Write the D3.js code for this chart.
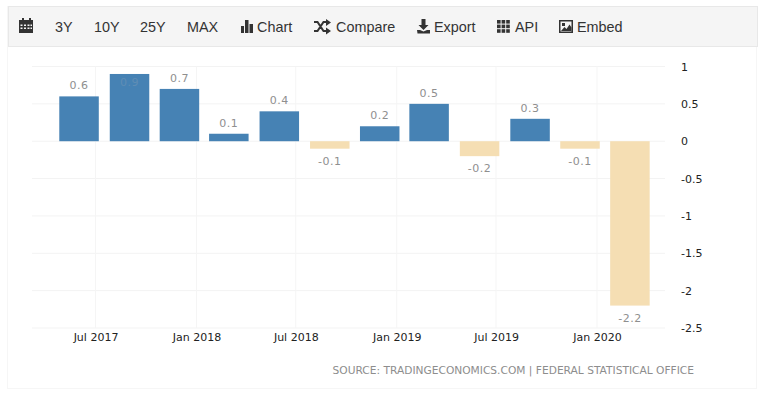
<!DOCTYPE html>
<html>
<head>
<meta charset="utf-8">
<script src="https://cdn.jsdelivr.net/npm/d3@7"></script>
<style>
  html, body { margin: 0; padding: 0; background: #fff; }
  svg { display: block; }
</style>
</head>
<body>
<div id="chart"></div>
<script>
// Quarterly values
var dates = ["2017-06-01", "2017-09-01", "2017-12-01", "2018-03-01", "2018-06-01", "2018-09-01",
  "2018-12-01", "2019-03-01", "2019-06-01", "2019-09-01", "2019-12-01", "2020-03-01"];
var values = [0.6, 0.9, 0.7, 0.1, 0.4, -0.1, 0.2, 0.5, -0.2, 0.3, -0.1, -2.2];
var yTicks = [1, 0.5, 0, -0.5, -1, -1.5, -2, -2.5];
var xTicks = ["2017-07-01", "2018-01-01", "2018-07-01", "2019-01-01", "2019-07-01", "2020-01-01"];
var rangeButtons = ["3Y", "10Y", "25Y", "MAX"];
var sourceText = "SOURCE: TRADINGECONOMICS.COM | FEDERAL STATISTICAL OFFICE";

var svgWidth = 760;
var svgHeight = 393;
var plot = { left: 32, right: 665, top: 66.5, bottom: 328 };
var barWidth = 39.5;

var parseDate = d3.timeParse("%Y-%m-%d");
var formatTick = d3.timeFormat("%b %Y");

var svg = d3.select("#chart")
  .append("svg")
  .attr("width", svgWidth)
  .attr("height", svgHeight);

// Outer panel and toolbar
svg.append("rect")
  .attr("x", 7.5).attr("y", 6.5)
  .attr("width", 749).attr("height", 382)
  .attr("fill", "#fff")
  .attr("stroke", "#f6f6f6");

svg.append("rect")
  .attr("x", 8.5).attr("y", 6.5)
  .attr("width", 749).attr("height", 40)
  .attr("fill", "#f5f5f5")
  .attr("stroke", "#e8e8e8");

// Scales, pinned on the two outer tick labels
var xScale = d3.scaleTime()
  .domain([parseDate(xTicks[0]), parseDate(xTicks[xTicks.length - 1])])
  .range([95.5, 597]);

var yScale = d3.scaleLinear()
  .domain([1, -2.5])
  .range([plot.top, plot.bottom]);

// Grid
var grid = svg.append("g");

grid.selectAll(".hgrid")
  .data(yTicks)
  .enter()
  .append("line")
  .attr("x1", plot.left)
  .attr("x2", plot.right)
  .attr("y1", d => yScale(d))
  .attr("y2", d => yScale(d))
  .attr("stroke", "#f3f3f3");

grid.selectAll(".vgrid")
  .data(xTicks)
  .enter()
  .append("line")
  .attr("x1", d => xScale(parseDate(d)))
  .attr("x2", d => xScale(parseDate(d)))
  .attr("y1", plot.top)
  .attr("y2", plot.bottom)
  .attr("stroke", "#f5f5f5");

// Axes
var xAxis = d3.axisBottom(xScale)
  .tickValues(xTicks.map(parseDate))
  .tickFormat(formatTick)
  .tickSize(0)
  .tickPadding(5);

var yAxis = d3.axisRight(yScale)
  .tickValues(yTicks)
  .tickFormat(d => d)
  .tickSize(0)
  .tickPadding(0);

var xAxisGroup = svg.append("g")
  .attr("transform", `translate(0, ${plot.bottom})`)
  .call(xAxis);

var yAxisGroup = svg.append("g")
  .attr("transform", `translate(681, 0)`)
  .call(yAxis);

[xAxisGroup, yAxisGroup].forEach(function(axis) {
  axis.select(".domain").remove();
  axis.selectAll("text")
    .attr("font-family", "'DejaVu Sans', sans-serif")
    .attr("font-size", 11)
    .attr("fill", "#222");
});

// Bars
var barData = dates.map((d, i) => ({ date: parseDate(d), value: values[i] }));

svg.selectAll(".bar")
  .data(barData)
  .enter()
  .append("rect")
  .attr("x", d => xScale(d.date) - barWidth / 2)
  .attr("y", d => yScale(Math.max(d.value, 0)))
  .attr("width", barWidth)
  .attr("height", d => Math.abs(yScale(d.value) - yScale(0)))
  .attr("fill", d => d.value >= 0 ? "#4682b4" : "#f5deb3");

// Value labels, the tallest one does not fit above and sits inside the bar
svg.selectAll(".value")
  .data(barData)
  .enter()
  .append("text")
  .text(d => d.value)
  .attr("x", d => xScale(d.date))
  .attr("y", function(d) {
    if (d.value === 0.9) return yScale(d.value) + 12;
    return d.value >= 0 ? yScale(d.value) - 7 : yScale(d.value) + 16;
  })
  .attr("text-anchor", "middle")
  .attr("font-family", "'DejaVu Sans', sans-serif")
  .attr("font-size", 11)
  .attr("letter-spacing", 0.5)
  .attr("fill", d => d.value === 0.9 ? "#5f8db5" : "#8f8f8f");

// Source line
svg.append("text")
  .attr("x", 694)
  .attr("y", 374)
  .attr("text-anchor", "end")
  .attr("font-family", "'DejaVu Sans', sans-serif")
  .attr("font-size", 10.65)
  .attr("fill", "#8d8d8d")
  .text(sourceText);

// Toolbar text
var toolbar = svg.append("g")
  .attr("font-family", "'Liberation Sans', Arial, sans-serif")
  .attr("font-size", 14.4)
  .attr("fill", "#333");

var toolbarLabels = [
  { text: rangeButtons[0], x: 55 },
  { text: rangeButtons[1], x: 94 },
  { text: rangeButtons[2], x: 140 },
  { text: rangeButtons[3], x: 187 },
  { text: "Chart", x: 257 },
  { text: "Compare", x: 336 },
  { text: "Export", x: 434 },
  { text: "API", x: 515 },
  { text: "Embed", x: 577 }
];

toolbar.selectAll("text")
  .data(toolbarLabels)
  .enter()
  .append("text")
  .attr("x", d => d.x)
  .attr("y", 32)
  .text(d => d.text);

// Toolbar icons
var icons = svg.append("g").attr("fill", "#333");

// calendar
icons.append("path")
  .attr("fill-rule", "evenodd")
  .attr("d", "M19 20h3v-2h2v2h5v-2h2v2h2v13H19z M20.5 24.5v1.5h2v-1.5z M24 24.5v1.5h2v-1.5z M27.5 24.5v1.5h2v-1.5z M30.5 24.5v1.5h1.5v-1.5z M20.5 27.5v1.5h2v-1.5z M24 27.5v1.5h2v-1.5z M27.5 27.5v1.5h2v-1.5z M30.5 27.5v1.5h1.5v-1.5z");

// bar chart
icons.append("path")
  .attr("d", "M241 26h3v7h-3z M245 20h3.5v13H245z M249.5 24h3.5v9h-3.5z");

// shuffle
icons.append("path")
  .attr("fill", "none")
  .attr("stroke", "#333")
  .attr("stroke-width", 2)
  .attr("d", "M314 22h3.5l6 9h3 M314 31h3.5l6-9h3");
icons.append("path")
  .attr("d", "M326 19l5 3.5-5 3.5z M326 27.5l5 3.5-5 3.5z");

// download
icons.append("path")
  .attr("d", "M421.5 19h4v6h3l-5 5-5-5h3z M417 30h3l3.5 1.5 3.5-1.500h3v3.500h-12.500z");

// api grid
var apiCells = d3.range(3);
apiCells.forEach(function(row) {
  apiCells.forEach(function(col) {
    icons.append("rect")
      .attr("x", 497 + col * 4.6)
      .attr("y", 20 + row * 4.6)
      .attr("width", 3.6)
      .attr("height", 3.6);
  });
});

// embed picture
icons.append("path")
  .attr("fill-rule", "evenodd")
  .attr("d", "M559 20h14v13h-14z M560.5 21.5v10h11v-10z");
icons.append("path")
  .attr("d", "M561 31l3.5-4 2 2 3-4.500 2 3v3.500z M562 23h3v3h-3z");
</script>
</body>
</html>
